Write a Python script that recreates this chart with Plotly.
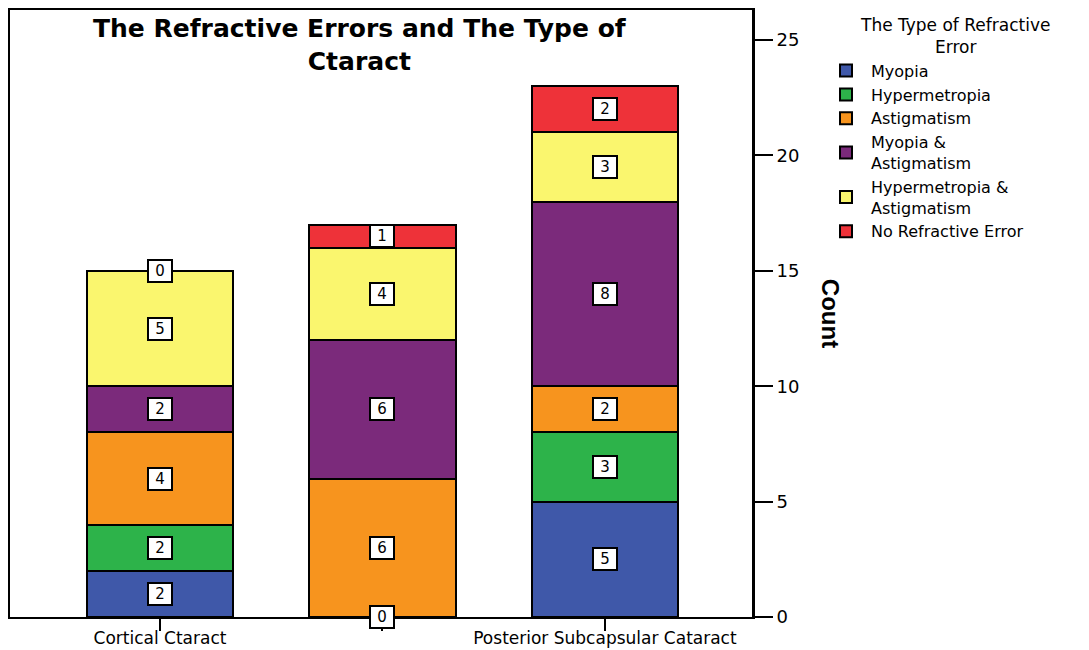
import plotly.graph_objects as go

categories = ["Cortical Ctaract", "", "Posterior Subcapsular Cataract"]
series_names = ["Myopia", "Hypermetropia", "Astigmatism", "Myopia &<br>Astigmatism",
                "Hypermetropia &<br>Astigmatism", "No Refractive Error"]
myopia = [2, 0, 5]
hypermetropia = [2, 0, 3]
astigmatism = [4, 6, 2]
myopia_astig = [2, 6, 8]
hyper_astig = [5, 4, 3]
no_error = [0, 1, 2]
series_values = [myopia, hypermetropia, astigmatism, myopia_astig, hyper_astig, no_error]
colors = ["#3f58a9", "#2db34a", "#f7941e", "#7b2a7b", "#faf66e", "#ee3239"]
y_ticks = [0, 5, 10, 15, 20, 25]

FONT = "DejaVu Sans, Verdana, sans-serif"

x_pos = list(range(len(categories)))
fig = go.Figure()
for name, vals, col in zip(series_names, series_values, colors):
    fig.add_trace(go.Bar(x=x_pos, y=vals, name=name, marker_color=col,
                         marker_line_color="black", marker_line_width=2, width=0.657))

# value labels in white boxes
annotations = []
base = [0] * len(categories)
shown_zero = set()
for vals in series_values:
    for i, v in enumerate(vals):
        mid = base[i] + v / 2
        if v == 0:
            if (i, base[i]) in shown_zero:
                continue
            shown_zero.add((i, base[i]))
        annotations.append(dict(x=i, y=mid, text=str(v), showarrow=False,
                                font=dict(family=FONT, size=15, color="black"),
                                bgcolor="white", bordercolor="black", borderwidth=2, borderpad=1,
                                width=20))
        base[i] += v

annotations.append(dict(x=1.106, y=0.5, xref="paper", yref="paper", xanchor="center", yanchor="middle",
                        text="<b>Count</b>", textangle=90, showarrow=False,
                        font=dict(family="Liberation Sans Narrow, Arial Narrow, Liberation Sans", size=24, color="black")))
annotations.append(dict(x=0.4717, y=0.997, xref="paper", yref="paper", xanchor="center", yanchor="top",
                        text="<b>The Refractive Errors and The Type of<br>Ctaract</b>", showarrow=False,
                        font=dict(family=FONT, size=25, color="black")))
annotations.append(dict(x=1.2736, y=0.957, xref="paper", yref="paper", xanchor="center", yanchor="middle",
                        text="The Type of Refractive<br>Error", showarrow=False, align="center",
                        font=dict(family=FONT, size=17, color="black")))

fig.update_layout(
    width=1081, height=642,
    margin=dict(l=2, r=337, t=2, b=33, autoexpand=False),
    paper_bgcolor="white", plot_bgcolor="white",
    barmode="stack", bargap=0,
    showlegend=True,
    legend=dict(x=1.093, xanchor="left", y=0.928, yanchor="top", traceorder="normal",
                font=dict(family=FONT, size=16, color="black"),
                tracegroupgap=0, itemwidth=40),
    annotations=annotations,
    font=dict(family=FONT, color="black"),
)
fig.update_xaxes(range=[-0.674, 2.661], tickvals=x_pos, ticktext=categories, automargin=False,
                 showline=True, linecolor="black", linewidth=2, mirror=True,
                 ticks="outside", ticklen=12, tickwidth=2, tickcolor="black",
                 ticklabelstandoff=-7,
                 showgrid=False, zeroline=False,
                 tickfont=dict(family=FONT, size=17, color="black"))
fig.update_yaxes(range=[0, 26.3], side="right", tickvals=y_ticks, automargin=False,
                 showline=True, linecolor="black", linewidth=3, mirror=True,
                 ticks="outside", ticklen=18, tickwidth=2, tickcolor="black",
                 showgrid=False, zeroline=False,
                 tickfont=dict(family=FONT, size=18, color="black"))

fig.write_html("out.html")
